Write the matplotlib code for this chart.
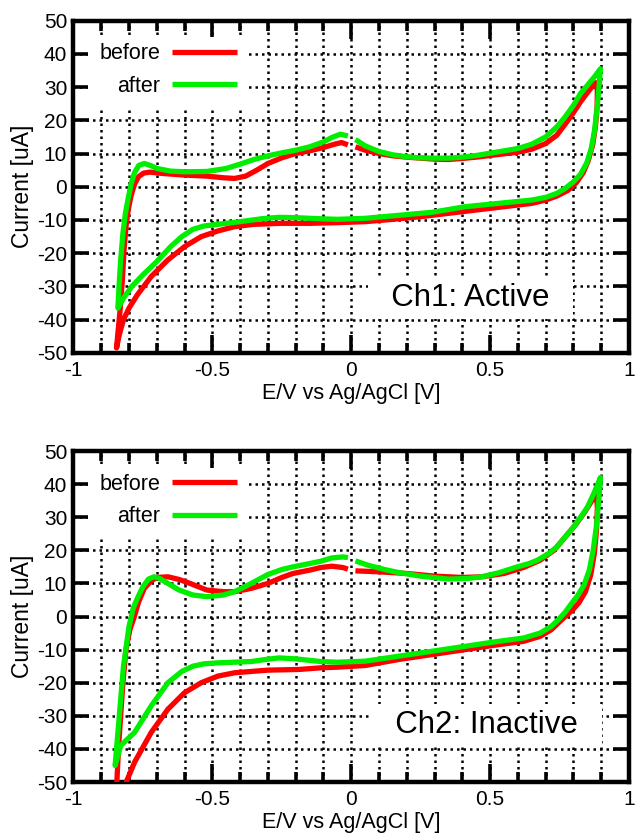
import matplotlib
matplotlib.use('Agg')
import matplotlib.pyplot as plt
from matplotlib.patches import Rectangle
from matplotlib.ticker import MultipleLocator, FixedLocator, FixedFormatter

plt.rcParams['font.family'] = ['Liberation Sans', 'DejaVu Sans']

# cyclic voltammograms, scan starts at 0 V, goes to +0.9 V, back to -0.85 V and up to 0 V
ch1_before_v = [0.015, 0.05, 0.10, 0.15, 0.20, 0.25, 0.30, 0.35, 0.40, 0.45, 0.50, 0.55, 0.60, 0.65,
                0.70, 0.74, 0.77, 0.80, 0.825, 0.85, 0.868, 0.88,
                0.886, 0.885, 0.879, 0.869, 0.853, 0.835, 0.81, 0.78, 0.74, 0.70, 0.65, 0.55, 0.45,
                0.35, 0.25, 0.15, 0.05, -0.05, -0.15, -0.25, -0.35, -0.42, -0.48, -0.54, -0.60,
                -0.66, -0.72, -0.77, -0.80, -0.82, -0.835, -0.845,
                -0.84, -0.832, -0.824, -0.818, -0.811, -0.802, -0.792, -0.78, -0.766, -0.748, -0.725,
                -0.68, -0.60, -0.52, -0.46, -0.42, -0.38, -0.34, -0.30, -0.25, -0.20, -0.15, -0.10,
                -0.06, -0.035, -0.012]
ch1_before_i = [12.0, 11.0, 10.0, 9.3, 8.9, 8.6, 8.3, 8.2, 8.5, 8.9, 9.4, 9.9, 10.4, 11.3,
                13.0, 15.5, 18.8, 22.3, 25.5, 28.3, 30.2, 31.3,
                29.0, 24.0, 18.0, 12.5, 7.8, 4.2, 1.2, -1.1, -2.8, -4.0, -5.0, -6.0, -7.0,
                -8.0, -9.0, -9.8, -10.5, -10.8, -11.0, -11.0, -11.3, -12.0, -13.3, -15.0, -18.0,
                -22.0, -27.0, -32.5, -36.5, -40.0, -44.5, -48.5,
                -44.0, -37.0, -28.0, -19.0, -12.0, -6.5, -2.5, 0.8, 3.0, 4.1, 4.4,
                4.0, 3.5, 3.2, 2.7, 2.5, 3.2, 5.0, 7.0, 8.7, 10.0, 10.8, 11.8,
                12.8, 13.3, 12.6]

ch1_after_v = [0.015, 0.05, 0.10, 0.15, 0.20, 0.25, 0.30, 0.35, 0.40, 0.45, 0.50, 0.55, 0.60, 0.65,
               0.70, 0.74, 0.77, 0.80, 0.825, 0.85, 0.875, 0.897,
               0.893, 0.886, 0.876, 0.864, 0.848, 0.825, 0.80, 0.77, 0.74, 0.70, 0.65, 0.53, 0.41,
               0.29, 0.17, 0.05, -0.05, -0.12, -0.20, -0.26, -0.32, -0.40, -0.47, -0.53, -0.57,
               -0.61, -0.65, -0.70, -0.75, -0.79, -0.82, -0.84,
               -0.836, -0.83, -0.822, -0.813, -0.803, -0.792, -0.78, -0.765, -0.745, -0.72, -0.70,
               -0.65, -0.60, -0.52, -0.45, -0.40, -0.35, -0.30, -0.25, -0.20, -0.15, -0.10,
               -0.07, -0.04, -0.012]
ch1_after_i = [14.2, 12.3, 10.6, 9.6, 9.0, 8.7, 8.6, 8.6, 8.9, 9.4, 10.1, 10.8, 11.5, 12.8,
               15.0, 18.0, 21.0, 24.5, 28.0, 30.5, 33.0, 35.5,
               31.0, 24.5, 17.0, 11.5, 7.2, 3.7, 1.5, -0.5, -2.0, -3.2, -4.0, -5.0, -6.0,
               -7.7, -8.6, -9.5, -9.8, -9.6, -9.3, -9.2, -9.6, -10.5, -11.2, -11.8, -12.8,
               -15.0, -18.0, -22.5, -26.5, -30.0, -33.5, -36.5,
               -30.0, -22.0, -14.0, -8.0, -3.5, 1.0, 4.3, 6.4, 7.0, 6.3, 5.5,
               4.7, 4.5, 4.6, 5.5, 6.8, 8.2, 9.3, 10.2, 11.0, 12.0, 13.5,
               14.8, 15.8, 15.3]

ch2_before_v = [0.015, 0.10, 0.20, 0.30, 0.40, 0.47, 0.55, 0.62, 0.68, 0.73, 0.77, 0.81, 0.84,
                0.865, 0.882,
                0.886, 0.883, 0.875, 0.862, 0.843, 0.82, 0.795, 0.77, 0.745, 0.72, 0.68, 0.62, 0.53, 0.41,
                0.29, 0.17, 0.05, -0.05, -0.11, -0.19, -0.30, -0.42, -0.48, -0.54, -0.60, -0.66,
                -0.72, -0.78, -0.81, -0.83,
                -0.845, -0.838, -0.83, -0.822, -0.811, -0.797, -0.782, -0.765, -0.745, -0.72, -0.70,
                -0.66, -0.62, -0.58, -0.52, -0.46, -0.42, -0.36, -0.30, -0.25, -0.21, -0.15,
                -0.11, -0.07, -0.03, -0.012]
ch2_before_i = [13.8, 13.5, 13.0, 12.2, 11.8, 12.0, 13.0, 14.8, 17.0, 20.0, 24.0, 28.0, 31.5,
                34.8, 37.3,
                33.0, 26.0, 19.0, 12.5, 7.5, 4.2, 1.8, 0.0, -2.0, -4.0, -6.0, -7.5, -8.5, -10.0,
                -11.5, -13.0, -14.8, -15.3, -15.5, -16.0, -16.2, -17.0, -18.0, -20.0, -23.0, -28.0,
                -35.0, -44.0, -50.0, -56.0,
                -52.0, -40.0, -30.0, -20.0, -10.0, -4.0, -0.3, 4.5, 8.5, 10.8, 11.8,
                12.0, 11.2, 10.0, 8.0, 7.5, 7.5, 8.5, 10.0, 11.8, 13.0, 14.0,
                14.8, 15.2, 14.8, 14.3]

ch2_after_v = [0.015, 0.06, 0.12, 0.17, 0.25, 0.35, 0.42, 0.47, 0.53, 0.59, 0.64, 0.67, 0.71,
               0.74, 0.77, 0.80, 0.83, 0.85, 0.875, 0.897,
               0.891, 0.882, 0.871, 0.857, 0.838, 0.815, 0.792, 0.77, 0.745, 0.72, 0.68, 0.62, 0.53,
               0.41, 0.29, 0.17, 0.05, -0.05, -0.11, -0.20, -0.26, -0.31, -0.36, -0.42, -0.48,
               -0.53, -0.57, -0.61, -0.66, -0.72, -0.78, -0.83, -0.85,
               -0.84, -0.83, -0.82, -0.80, -0.785, -0.77, -0.75, -0.73, -0.71, -0.69, -0.66,
               -0.62, -0.57, -0.52, -0.46, -0.42, -0.36, -0.30, -0.25, -0.21, -0.15, -0.11,
               -0.07, -0.03, -0.012]
ch2_after_i = [16.8, 15.5, 14.2, 13.3, 12.2, 11.3, 11.5, 12.0, 13.2, 14.8, 16.0, 17.0, 19.0,
               21.0, 24.0, 27.0, 30.5, 33.0, 37.5, 42.0,
               35.0, 27.0, 20.0, 14.0, 9.5, 6.3, 3.8, 1.3, -1.0, -3.0, -5.0, -6.5, -7.5,
               -9.0, -10.5, -12.0, -13.5, -13.8, -13.6, -12.8, -12.5, -13.0, -13.6, -13.8, -14.0,
               -14.3, -15.0, -16.6, -20.0, -27.0, -35.0, -39.0, -45.0,
               -35.0, -25.0, -15.0, -3.0, 2.5, 5.5, 9.0, 11.3, 12.0, 11.5, 10.0,
               8.0, 6.5, 6.0, 6.5, 7.5, 10.0, 12.7, 14.2, 15.0, 16.0, 16.7,
               17.7, 18.0, 17.8]

x_ticks = [-1, -0.5, 0, 0.5, 1]
x_ticklabels = ['-1', '-0.5', '0', '0.5', '1']
y_ticks = [-50, -40, -30, -20, -10, 0, 10, 20, 30, 40, 50]
y_ticklabels = ['-50', '-40', '-30', '-20', '-10', '0', '10', '20', '30', '40', '50']

red = '#ff0000'
green = '#00ee00'


def draw_panel(ax, v_before, i_before, v_after, i_after, tag, tag_xy):
    ax.plot(v_before, i_before, color=red, lw=3.8, solid_capstyle='butt',
            solid_joinstyle='round', label='before', zorder=3)
    ax.plot(v_after, i_after, color=green, lw=3.8, solid_capstyle='butt',
            solid_joinstyle='round', label='after', zorder=4)

    ax.set_xlim(-1, 1)
    ax.set_ylim(-50, 50)
    ax.xaxis.set_major_locator(FixedLocator(x_ticks))
    ax.xaxis.set_major_formatter(FixedFormatter(x_ticklabels))
    ax.xaxis.set_minor_locator(MultipleLocator(0.1))
    ax.yaxis.set_major_locator(FixedLocator(y_ticks))
    ax.yaxis.set_major_formatter(FixedFormatter(y_ticklabels))

    ax.tick_params(which='both', direction='in', top=True, right=True, width=2.6,
                   labelsize=15, color='black')
    ax.tick_params(axis='x', which='major', length=13, pad=6)
    ax.tick_params(axis='x', which='minor', length=7)
    ax.tick_params(axis='y', which='major', length=11.5, pad=4.5)
    for s in ax.spines.values():
        s.set_linewidth(3.2)

    # dotted grid on every 0.1 V and every 10 uA
    ax.grid(which='both', color='black', linestyle=(0, (1, 1.6)), linewidth=1.8)
    ax.set_axisbelow(True)

    ax.set_xlabel('E/V vs Ag/AgCl [V]', fontsize=15.5, labelpad=2)
    ax.set_ylabel('Current [uA]', fontsize=16.5, labelpad=2)

    # white key area over the grid
    ax.add_patch(Rectangle((0.026, 0.739), 0.286, 0.211, transform=ax.transAxes,
                           fc='white', ec='none', zorder=2))
    leg = ax.legend(loc='upper right', bbox_to_anchor=(0.294, 0.932), markerfirst=False,
                    fontsize=15.5, handlelength=3.0, handletextpad=0.55, labelspacing=0.55,
                    borderpad=0, borderaxespad=0, frameon=False)
    leg.set_zorder(6)

    ax.text(tag_xy[0], tag_xy[1], '  ' + tag + '  ', transform=ax.transAxes, fontsize=22.5,
            ha='center', va='center', zorder=6,
            bbox=dict(boxstyle='square,pad=0.2', fc='white', ec='none'))


fig = plt.figure(figsize=(6.35, 8.38), dpi=100)
ax1 = fig.add_axes([0.1157, 0.5788, 0.8749, 0.3967])
ax2 = fig.add_axes([0.1157, 0.0668, 0.8749, 0.3950])

draw_panel(ax1, ch1_before_v, ch1_before_i, ch1_after_v, ch1_after_i, 'Ch1: Active', (0.714, 0.165))
draw_panel(ax2, ch2_before_v, ch2_before_i, ch2_after_v, ch2_after_i, 'Ch2: Inactive', (0.744, 0.172))

fig.savefig('out.png', dpi=100)
